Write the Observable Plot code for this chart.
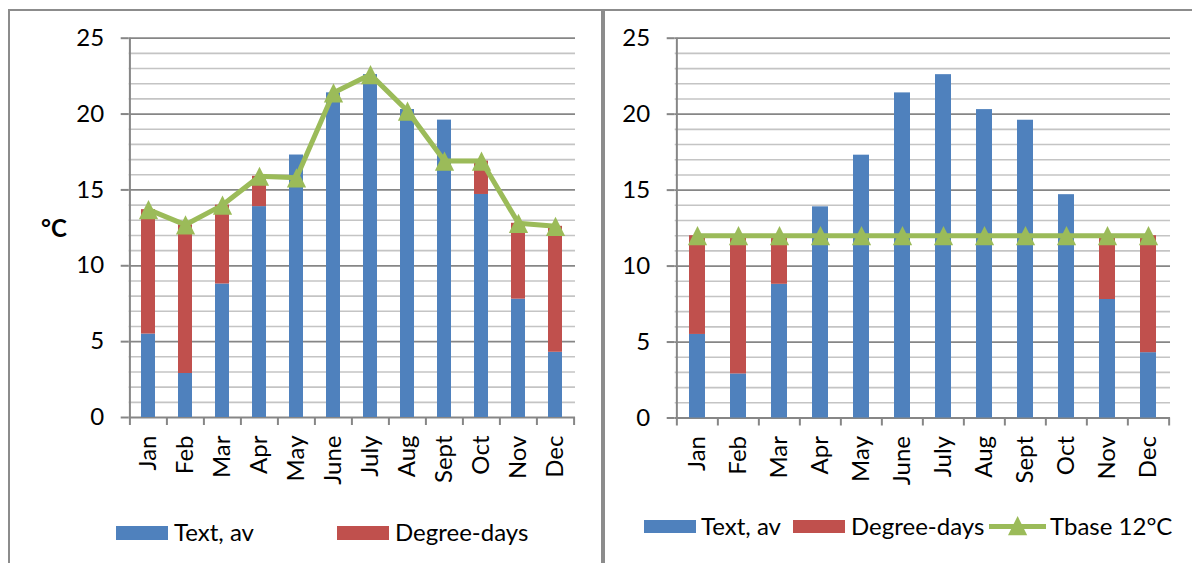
<!DOCTYPE html>
<html>
<head>
<meta charset="utf-8">
<script src="https://cdn.jsdelivr.net/npm/d3@7"></script>
<script src="https://cdn.jsdelivr.net/npm/@observablehq/plot@0.6"></script>
<style>
  html, body { margin: 0; padding: 0; background: #fff; }
  #root { position: relative; width: 1192px; height: 563px; overflow: hidden; background: #fff; font-family: Lato, "Open Sans", sans-serif; }
  .pane { position: absolute; top: 0; }
  .border { position: absolute; background: #8c8c8c; }
  .leg { position: absolute; font-size: 24px; color: #000; line-height: 1; white-space: nowrap; }
  .sw { position: absolute; }
  .unit { position: absolute; font-size: 24px; font-weight: bold; color: #000; line-height: 1; }
</style>
</head>
<body>
<div id="root"></div>
<script>
// ---- data ----
const months = ["Jan","Feb","Mar","Apr","May","June","July","Aug","Sept","Oct","Nov","Dec"];
const textAv = [5.5, 2.9, 8.8, 13.9, 17.3, 21.4, 22.6, 20.3, 19.6, 14.7, 7.8, 4.3];
// left chart: balance temperature per month and resulting degree-days
const tbaseLeft = [13.7, 12.7, 14.0, 15.9, 15.8, 21.4, 22.6, 20.2, 16.9, 16.9, 12.8, 12.6];
const degreeDaysLeft = [8.2, 9.8, 5.2, 2.0, 0, 0, 0, 0, 0, 2.2, 5.0, 8.3];
// right chart: fixed base temperature 12 °C
const tbaseRight = [12, 12, 12, 12, 12, 12, 12, 12, 12, 12, 12, 12];
const degreeDaysRight = [6.5, 9.1, 3.2, 0, 0, 0, 0, 0, 0, 0, 4.2, 7.7];
const yTicks = [0, 5, 10, 15, 20, 25];
const yMinor = [1,2,3,4,6,7,8,9,11,12,13,14,16,17,18,19,21,22,23,24];
const seriesNames = ["Text, av", "Degree-days", "Tbase 12°C"];

const BLUE = "#4F81BD", RED = "#C0504D", GREEN = "#9BBB59";
const GRID_MAJOR = "#868686", GRID_MINOR = "#c4c4c4";

// Excel-like triangle marker: width = height = 2r
const tri = {
  draw(ctx, size) {
    const r = Math.sqrt(size / Math.PI);
    ctx.moveTo(0, -r);
    ctx.lineTo(r, r);
    ctx.lineTo(-r, r);
    ctx.closePath();
  }
};

function panel({width, height, ml, mr, mt, mb, dd, tbase}) {
  const rows = [];
  months.forEach((m, i) => rows.push({month: m, series: seriesNames[0], value: textAv[i]}));
  months.forEach((m, i) => rows.push({month: m, series: seriesNames[1], value: dd[i]}));
  const line = months.map((m, i) => ({month: m, t: tbase[i]}));
  const step = (width - ml - mr) / months.length;
  return Plot.plot({
    width, height,
    marginLeft: ml, marginRight: mr, marginTop: mt, marginBottom: mb,
    style: {fontFamily: "Lato, 'Open Sans', sans-serif", fontSize: "24px", color: "#000", background: "transparent", overflow: "visible"},
    x: {domain: months, paddingInner: 0.61, paddingOuter: 0.305, axis: null},
    y: {domain: [0, 25], axis: null},
    color: {domain: seriesNames.slice(0, 2), range: [BLUE, RED]},
    marks: [
      Plot.ruleY(yMinor, {stroke: GRID_MINOR, strokeWidth: 1.6}),
      Plot.ruleY(yTicks, {stroke: GRID_MAJOR, strokeWidth: 1.8}),
      Plot.barY(rows, {x: "month", y: "value", fill: "series"}),
      Plot.ruleX([months[0]], {x: d => d, dx: -step / 2, stroke: GRID_MAJOR, strokeWidth: 2}),
      Plot.axisY({ticks: yTicks, tickSize: 8, tickPadding: 17, stroke: GRID_MAJOR, strokeWidth: 2, fontSize: 24, label: null}),
      Plot.axisX({tickSize: 8, tickFormat: () => "", stroke: GRID_MAJOR, strokeWidth: 2, dx: -step / 2, label: null}),
      Plot.axisX([months[months.length - 1]], {tickSize: 8, tickFormat: () => "", stroke: GRID_MAJOR, strokeWidth: 2, dx: step / 2, label: null}),
      Plot.axisX({tickSize: 0, tickPadding: 18, tickRotate: -90, fontSize: 24, label: null}),
      Plot.line(line, {x: "month", y: "t", stroke: GREEN, strokeWidth: 5}),
      Plot.dot(line, {x: "month", y: "t", symbol: tri, r: 9.6, fill: GREEN, stroke: "none"})
    ]
  });
}

const root = document.getElementById("root");

const left = panel({width: 600, height: 563, ml: 128.7, mr: 25, mt: 37.7, mb: 146, dd: degreeDaysLeft, tbase: tbaseLeft});
left.classList.add("pane");
left.style.left = "0px";
root.appendChild(left);

const right = panel({width: 588, height: 563, ml: 70.7, mr: 22, mt: 37.7, mb: 145.5, dd: degreeDaysRight, tbase: tbaseRight});
right.classList.add("pane");
right.style.left = "604px";
root.appendChild(right);

function box(cls, l, t, w, h, bg) {
  const d = document.createElement("div");
  d.className = cls;
  Object.assign(d.style, {left: l + "px", top: t + "px", width: w + "px", height: h + "px"});
  if (bg) d.style.background = bg;
  root.appendChild(d);
  return d;
}
function label(cls, l, cy, txt) {
  const d = document.createElement("div");
  d.className = cls;
  d.textContent = txt;
  d.style.left = l + "px";
  d.style.top = (cy - 12.5) + "px";
  root.appendChild(d);
  return d;
}

// panel frames
box("border", 7.5, 8.5, 2, 560);
box("border", 7.5, 8.5, 594, 2);
box("border", 600.5, 8.5, 2, 560);
box("border", 602.5, 8.5, 600, 2);
box("border", 602.5, 8.5, 2, 560);

// unit label
label("unit", 41, 228, "°C");

// left legend
box("sw", 116, 526, 52, 13.5, BLUE);
label("leg", 174, 532, seriesNames[0]);
box("sw", 337, 526, 52, 13.5, RED);
label("leg", 395, 532, seriesNames[1]);

// right legend
box("sw", 644, 519.5, 52, 13.5, BLUE);
label("leg", 701, 526, seriesNames[0]);
box("sw", 793, 519.5, 52, 13.5, RED);
label("leg", 851, 526, seriesNames[1]);
box("sw", 989, 523.5, 57, 5, GREEN);
const tr = document.createElementNS("http://www.w3.org/2000/svg", "svg");
tr.setAttribute("width", "20"); tr.setAttribute("height", "20");
tr.style.position = "absolute"; tr.style.left = "1007.5px"; tr.style.top = "516px";
tr.innerHTML = `<path d="M9.6,0L19.2,19.2L0,19.2Z" fill="${GREEN}"/>`;
root.appendChild(tr);
label("leg", 1050, 526, seriesNames[2]);
</script>
</body>
</html>
